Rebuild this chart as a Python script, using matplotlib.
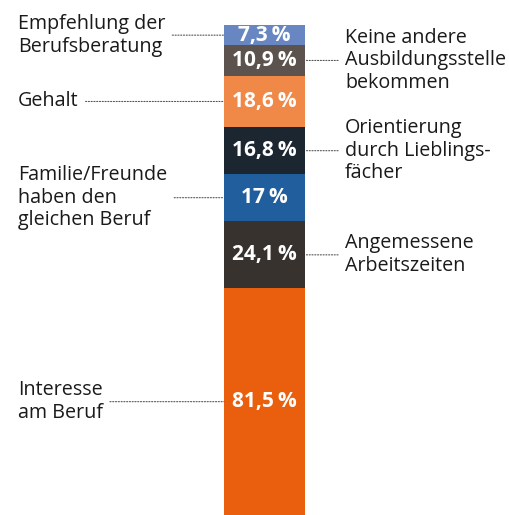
import matplotlib.pyplot as plt

plt.rcParams['font.family'] = ['Open Sans', 'DejaVu Sans']

# bottom to top
labels = ['Interesse\nam Beruf', 'Angemessene\nArbeitszeiten', 'Familie/Freunde\nhaben den\ngleichen Beruf',
          'Orientierung\ndurch Lieblings-\nfächer', 'Gehalt', 'Keine andere\nAusbildungsstelle\nbekommen',
          'Empfehlung der\nBerufsberatung']
values = [81.5, 24.1, 17.0, 16.8, 18.6, 10.9, 7.3]
value_text = ['81,5\u2009%', '24,1\u2009%', '17\u2009%', '16,8\u2009%', '18,6\u2009%', '10,9\u2009%', '7,3\u2009%']
sides = ['left', 'right', 'left', 'right', 'left', 'right', 'left']
colors = ['#e95f0e', '#38322f', '#215e9e', '#1c2631', '#f08847', '#5c524e', '#6887c2']

W, H = 510, 515
fig = plt.figure(figsize=(W / 100, H / 100), dpi=100)
ax = fig.add_axes([224 / W, 0, 81 / W, 490 / H])
total = sum(values)
ax.set_xlim(0, 1)
ax.set_ylim(0, total)
ax.axis('off')

bottom = 0
for lab, v, vt, side, c in zip(labels, values, value_text, sides, colors):
    ax.bar(0.5, v, width=1, bottom=bottom, color=c, linewidth=0)
    mid = bottom + v / 2
    ax.text(0.5, mid, vt, ha='center', va='center', color='white',
            fontsize=15, fontweight='bold')
    if side == 'left':
        xy = (0, mid)
        off = (18 - 224, 0)
    else:
        xy = (1, mid)
        off = (345 - 305, 0)
    ax.annotate(lab, xy=xy, xytext=off, textcoords='offset pixels',
                ha='left', va='center', fontsize=14.2, color='#1a1a1a',
                linespacing=1.18, annotation_clip=False,
                arrowprops=dict(arrowstyle='-', linestyle=(0, (1, 1.5)), color='#555555',
                                lw=0.8, shrinkA=3, shrinkB=0))
    bottom += v

fig.savefig('out.png', dpi=100)
